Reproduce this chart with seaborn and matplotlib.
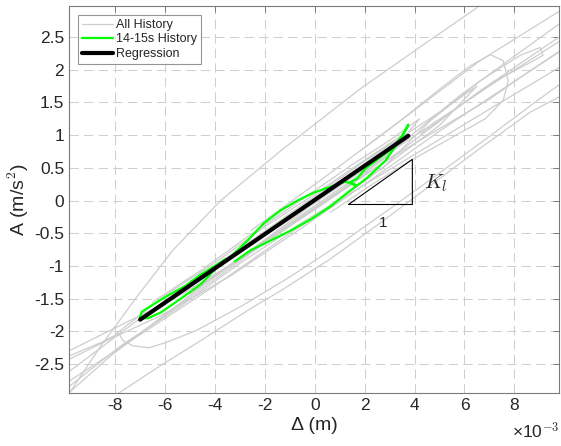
import numpy as np
import pandas as pd
import seaborn as sns
import matplotlib.pyplot as plt
from matplotlib.lines import Line2D
from matplotlib.ticker import FixedLocator, FuncFormatter

# displacement in units of 1e-3 m, acceleration in m/s^2

# ---- all history (hand-read curves) ----
h1_x = [-9.85, -8.57, -7.09, -5.69, -3.77, -1.37, 1.83, 4.23, 6.51]
h1_y = [-2.95, -2.22, -1.45, -0.76, 0.00, 0.76, 1.71, 2.35, 2.95]

h2_x = [-7.89, -6.17, -4.57, -2.57, -1.37, 0.63, 2.63, 4.63, 6.63, 8.63, 9.87]
h2_y = [-2.95, -2.52, -2.14, -1.65, -1.38, -0.89, -0.34, 0.23, 0.80, 1.35, 1.60]

h3_x = [-9.81, -7.97, -5.77, -2.97, 0.23, 3.43, 6.63, 9.87]
h3_y = [-2.29, -1.94, -1.53, -0.89, -0.08, 0.76, 1.68, 2.52]

h4_x = [-9.81, -8.17, -6.17, -3.37, -0.57, 2.23, 5.03, 7.43, 9.87]
h4_y = [-2.42, -2.11, -1.76, -1.15, -0.43, 0.31, 1.07, 1.68, 2.29]

h5_x = [-9.77, -8.17, -6.57, -4.77, -2.57, -0.17, 2.23, 4.63, 7.03, 9.87]
h5_y = [-2.91, -2.37, -1.91, -1.38, -0.76, -0.08, 0.54, 1.15, 1.76, 2.45]

h6_x = [-9.81, -8.57, -7.85, -7.69, -7.29, -6.65, -5.97, -4.77, -2.97, -0.97,
        1.03, 3.03, 5.03, 7.03, 9.03, 9.87]
h6_y = [-2.37, -2.17, -2.03, -2.14, -2.22, -2.25, -2.17, -1.99, -1.62, -1.16,
        -0.66, -0.12, 0.43, 0.99, 1.56, 1.79]

h7_x = [1.83, 3.43, 5.03, 6.23, 7.03, 7.55, 7.75, 7.55, 6.83, 5.43, 3.83, 2.23, 0.63]
h7_y = [0.76, 1.22, 1.71, 2.06, 2.23, 2.14, 1.83, 1.53, 1.25, 0.95, 0.61, 0.23, -0.18]

h8_x = [2.63, 4.63, 6.63, 8.23, 9.03, 9.15, 8.63, 7.43, 5.83, 4.23]
h8_y = [0.46, 1.22, 1.83, 2.22, 2.34, 2.22, 2.11, 1.87, 1.45, 1.02]

h9_x = [-2.57, 0.23, 3.43, 6.63, 9.87]
h9_y = [-0.46, 0.31, 1.22, 2.14, 2.91]

h10_x = [-4.57, -0.57, 2.63, 5.83, 9.87]
h10_y = [-1.30, -0.23, 0.61, 1.61, 2.72]

h11_x = [-9.81, -7.77, -5.37, -2.97, -0.57, 2.03, 4.63, 7.23, 9.87]
h11_y = [-2.83, -2.22, -1.61, -0.95, -0.35, 0.25, 0.85, 1.45, 2.05]

h12_x = [-8.0, -6.0, -4.0, -2.0, 0.0, 2.0, 3.5, 2.0, 0.0, -2.0, -4.0, -6.0, -8.0]
h12_y = [-2.05, -1.45, -0.95, -0.40, 0.10, 0.62, 1.00, 0.40, -0.12, -0.65, -1.20, -1.75, -2.30]

h13_x = [-9.8, -7.0, -4.0, -1.0, 2.0, 5.0, 6.5, 5.0, 2.0, -1.0, -4.0, -7.0, -9.8]
h13_y = [-2.60, -1.80, -1.00, -0.20, 0.60, 1.35, 1.75, 1.15, 0.30, -0.50, -1.30, -2.05, -2.75]

h14_x = [-6.5, -4.5, -2.5, -0.5, 1.5, 3.0, 4.2, 3.0, 1.0, -1.0, -3.0, -5.0]
h14_y = [-1.55, -1.05, -0.50, 0.02, 0.55, 0.92, 1.25, 0.70, 0.15, -0.38, -0.90, -1.42]

h15_x = [-5.0, -3.0, -1.0, 1.0, 3.0, 5.0, 7.0, 8.5, 9.87]
h15_y = [-1.40, -0.88, -0.36, 0.15, 0.64, 1.10, 1.55, 1.95, 2.30]

# ---- 14-15 s history ----
win_x = [-3.21, -2.57, -1.77, -0.97, -0.17, 0.63, 1.31, 2.11, 2.83, 3.35, 3.75,
         3.55, 3.11, 2.55, 2.03, 1.71, 1.43, 1.67, 1.23, 0.63, -0.05, -0.69, -1.37,
         -2.05, -2.69, -3.37, -3.89, -4.57, -5.37, -6.17, -6.69, -7.01, -6.93,
         -6.57, -5.97, -5.17, -4.57, -3.97, -3.57]
win_y = [-0.93, -0.76, -0.61, -0.46, -0.29, -0.09, 0.12, 0.35, 0.61, 0.89, 1.16,
         1.01, 0.80, 0.64, 0.49, 0.34, 0.28, 0.23, 0.29, 0.21, 0.12, 0.00, -0.15,
         -0.35, -0.61, -0.86, -1.01, -1.28, -1.50, -1.71, -1.80, -1.79, -1.70,
         -1.61, -1.47, -1.30, -1.13, -0.99, -0.89]

# ---- regression ----
reg_x = [-7.0, 3.75]
reg_y = [-1.82, 0.99]

# slope triangle
tri_x = [1.35, 3.91, 3.91, 1.35]
tri_y = [-0.06, -0.06, 0.63, -0.06]

hist = [(h1_x, h1_y), (h2_x, h2_y), (h3_x, h3_y), (h4_x, h4_y), (h5_x, h5_y),
        (h6_x, h6_y), (h7_x, h7_y), (h8_x, h8_y), (h9_x, h9_y), (h10_x, h10_y),
        (h11_x, h11_y), (h12_x, h12_y), (h13_x, h13_y), (h14_x, h14_y),
        (h15_x, h15_y)]
rows = []
for k, (xs, ys) in enumerate(hist):
    for i in range(len(xs)):
        rows.append((k, i, xs[i], ys[i]))
df_all = pd.DataFrame(rows, columns=['run', 'step', 'disp', 'acc'])
df_win = pd.DataFrame({'disp': win_x, 'acc': win_y})
df_reg = pd.DataFrame({'disp': reg_x, 'acc': reg_y})

sns.set_style('white')
plt.rcParams['font.family'] = ['Liberation Sans', 'DejaVu Sans']
plt.rcParams['mathtext.fontset'] = 'cm'
plt.rcParams['axes.unicode_minus'] = False

fig = plt.figure(figsize=(5.61, 4.46), dpi=100)
ax = fig.add_axes([0.123, 0.119, 0.874, 0.867])

gray = '#cdcdcd'
sns.lineplot(data=df_all, x='disp', y='acc', units='run', estimator=None,
             sort=False, color=gray, lw=0.9, ax=ax)
sns.lineplot(data=df_win, x='disp', y='acc', sort=False, estimator=None,
             color='#00ff00', lw=1.6, ax=ax)
sns.lineplot(data=df_reg, x='disp', y='acc', sort=False, estimator=None,
             color='black', lw=3.0, ax=ax, solid_capstyle='round')

ax.plot(tri_x, tri_y, color='black', lw=0.8)
ax.text(2.75, -0.34, '1', fontsize=11, ha='center', va='center', color='#262626')
ax.text(4.83, 0.26, '$K_l$', fontsize=15, ha='center', va='center')

ax.set_xlim(-9.85, 9.8)
ax.set_ylim(-2.94, 2.97)
ax.xaxis.set_major_locator(FixedLocator(np.arange(-8, 9, 2)))
ax.yaxis.set_major_locator(FixedLocator(np.arange(-2.5, 2.6, 0.5)))
fmt = FuncFormatter(lambda v, p: '%g' % round(v, 2))
ax.xaxis.set_major_formatter(fmt)
ax.yaxis.set_major_formatter(fmt)

ax.grid(True, color='#cfcfcf', linestyle=(0, (9, 5)), lw=0.75)
ax.set_axisbelow(True)
for s in ax.spines.values():
    s.set_color('#7a7a7a')
    s.set_linewidth(0.8)
ax.tick_params(direction='in', length=4, width=0.7, color='#7a7a7a',
               top=True, right=True, labelsize=12.5, labelcolor='#262626')

ax.set_xlabel('Δ (m)', fontsize=14, color='#262626', labelpad=3)
ax.set_ylabel('A (m/s$^2$)', fontsize=14, color='#262626', labelpad=2)
ax.text(1.0, -0.1, '×10$^{-3}$', transform=ax.transAxes, ha='right',
        va='center', fontsize=12.5, color='#262626')

handles = [Line2D([], [], color=gray, lw=0.9),
           Line2D([], [], color='#00ff00', lw=1.6),
           Line2D([], [], color='black', lw=3.0)]
leg = ax.legend(handles, ['All History', '14-15s History', 'Regression'],
                loc='upper left', bbox_to_anchor=(0.018, 0.977), fontsize=9,
                frameon=True, fancybox=False, edgecolor='#7a7a7a',
                handlelength=2.5, handletextpad=0.25, borderpad=0.3,
                labelspacing=0.2, borderaxespad=0)
leg.get_frame().set_linewidth(0.8)

fig.savefig('out.png', dpi=100)
